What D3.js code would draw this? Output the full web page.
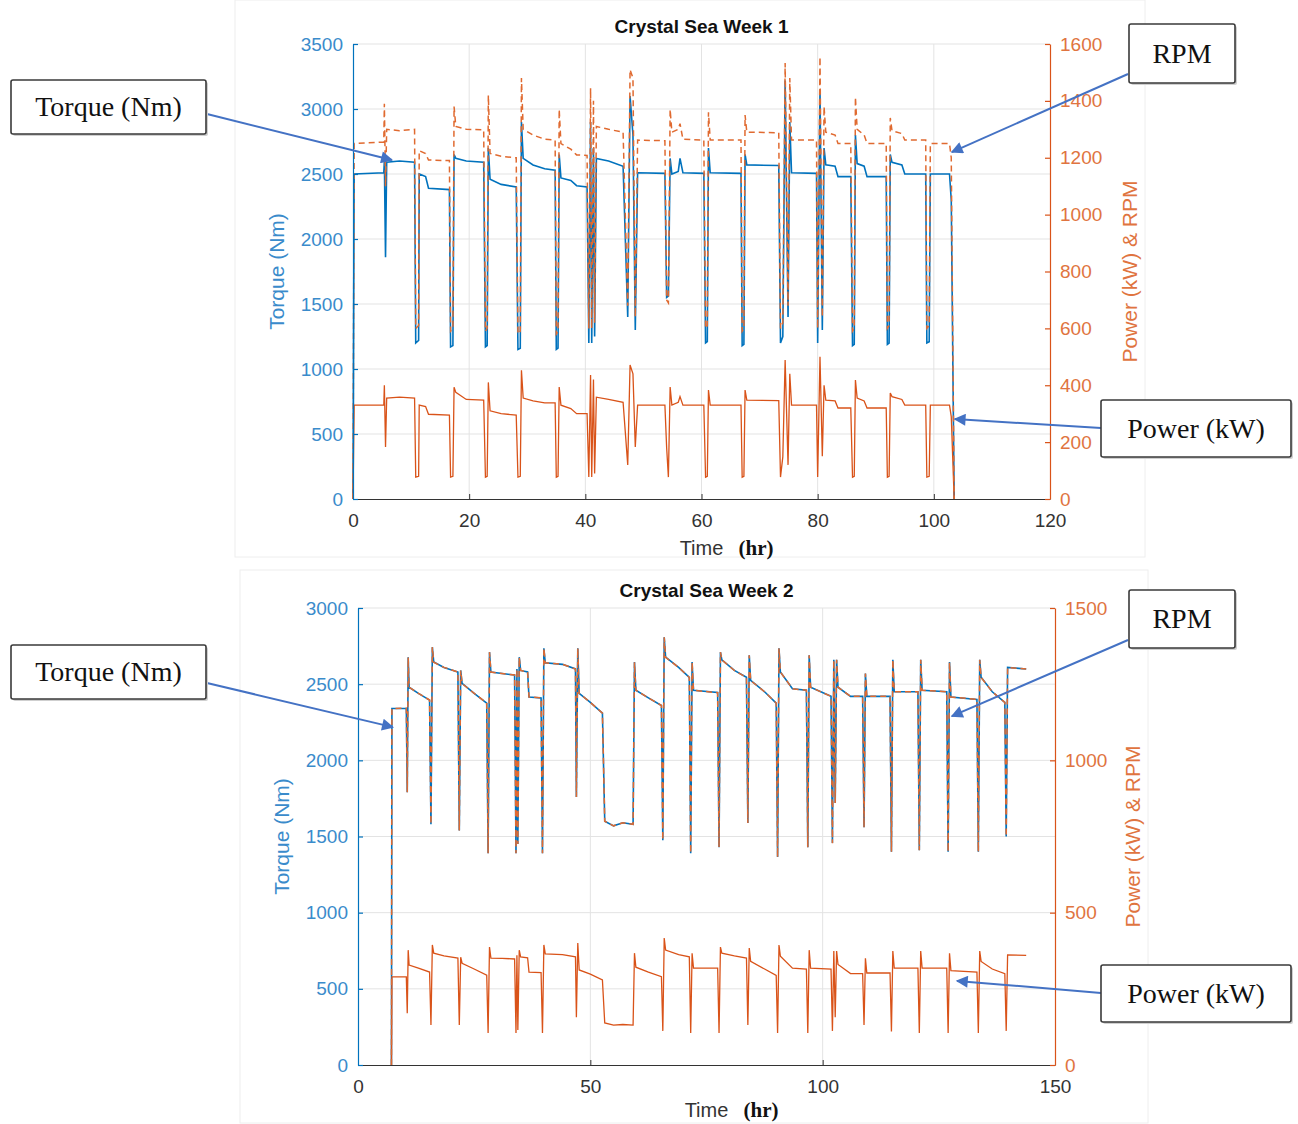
<!DOCTYPE html>
<meta charset="utf-8">
<html>
<head>
  <title>Crystal Sea Week 1 and 2</title>
  <style>
    body { margin: 0; background: #fff; }
    svg { display: block; }
  </style>
  <script src="https://d3js.org/d3.v7.min.js"></script>
</head>
<body>
<svg width="1298" height="1124"></svg>
<script>

  // ---- Week 1: time (hr), torque (Nm), RPM, power (kW) ----
  var w1Time = [
    0, 0.2, 5.3,
    5.4, 5.6, 5.8, 8.0, 10.6,
    10.8, 11.3, 11.4, 12.5, 13.0, 16.6,
    16.8, 17.2, 17.4, 17.7, 19.5, 22.5,
    22.8, 23.1, 23.3, 23.6, 25.5, 28.1,
    28.4, 28.8, 29.0, 29.3, 31.0, 33.0, 34.8,
    35.0, 35.3, 35.5, 35.8, 37.5, 38.5, 40.3,
    40.6, 40.9, 41.1, 41.4, 41.6, 41.9, 44.0, 46.5,
    47.3, 47.7, 48.2, 48.6, 49.0, 53.7,
    54.0, 54.3, 54.6, 54.9, 56.0, 56.3, 56.8, 60.4,
    60.7, 61.0, 61.2, 61.5, 66.8,
    67.0, 67.3, 67.5, 67.8, 73.3,
    73.6, 74.0, 74.4, 74.9, 75.2, 75.5, 79.8,
    80.0, 80.4, 80.8, 81.1, 81.4, 83.0, 83.5, 85.7,
    86.0, 86.3, 86.5, 86.8, 88.0, 88.5, 91.8,
    92.0, 92.3, 92.5, 92.8, 94.5, 95.0, 98.6,
    98.8, 99.2, 99.4, 102.7, 103.0, 103.5
  ];
  var w1Torque = [
    0, 2500, 2510,
    2600, 1860, 2590, 2600, 2590,
    1200, 1220, 2500, 2480, 2390, 2380,
    1170, 1180, 2650, 2620, 2600, 2590,
    1170, 1180, 2700, 2460, 2420, 2400,
    1150, 1160, 2900, 2620, 2570, 2540, 2530,
    1150, 1160, 2650, 2470, 2450, 2410, 2400,
    1200, 2900, 1200, 2700, 1250, 2620, 2600, 2560,
    1400, 3100, 2800, 1300, 2510, 2505,
    1550, 1560, 2620, 2500, 2520, 2620, 2510, 2505,
    1200, 1210, 2700, 2510, 2505,
    1180, 1190, 2650, 2570, 2565,
    1200, 1250, 3220, 1400, 2900, 2510, 2505,
    1200, 3150, 1300, 2700, 2570, 2560, 2480, 2480,
    1180, 1190, 2800, 2580, 2560, 2480, 2480,
    1190, 1200, 2650, 2590, 2570, 2500, 2500,
    1200, 1210, 2500, 2500, 2300, 0
  ];
  var w1Rpm = [
    0, 1250, 1255,
    1390, 1100, 1300, 1295, 1300,
    600, 610, 1225, 1215, 1192, 1190,
    590, 600, 1380, 1310, 1300, 1298,
    590, 600, 1420, 1215, 1205, 1200,
    580, 590, 1480, 1300, 1280, 1265, 1262,
    580, 590, 1370, 1250, 1230, 1210, 1208,
    600, 1445, 600, 1400, 620, 1310, 1300, 1290,
    680, 1510, 1480, 640, 1262, 1260,
    700, 690, 1370, 1290, 1300, 1320, 1265, 1262,
    600, 610, 1360, 1262, 1262,
    590, 600, 1350, 1290, 1288,
    600, 620, 1533, 680, 1480, 1262, 1262,
    600, 1555, 640, 1380, 1290, 1280, 1250, 1250,
    590, 600, 1413, 1300, 1280, 1250, 1250,
    600, 610, 1340, 1295, 1285, 1262, 1262,
    600, 610, 1250, 1250, 1200, 0
  ];
  var w1Power = [
    0, 330, 330,
    400, 183, 355, 358, 355,
    77, 80, 330, 325, 298, 295,
    77, 80, 393, 375, 350, 348,
    77, 80, 410, 310, 300, 295,
    77, 80, 453, 355, 345, 338, 338,
    77, 80, 394, 330, 318, 300, 300,
    77, 436, 77, 420, 90, 358, 350, 340,
    120, 471, 440, 183, 330, 330,
    180, 77, 394, 330, 340, 360, 330, 330,
    77, 80, 383, 330, 330,
    77, 80, 383, 348, 346,
    77, 148, 489, 120, 440, 330, 330,
    77, 500, 150, 400, 348, 345, 320, 320,
    77, 80, 418, 355, 345, 320, 320,
    77, 80, 373, 360, 350, 330, 330,
    77, 80, 330, 330, 290, 0
  ];
  var w1XTicks = [0, 20, 40, 60, 80, 100, 120];
  var w1LeftTicks = [0, 500, 1000, 1500, 2000, 2500, 3000, 3500];
  var w1RightTicks = [0, 200, 400, 600, 800, 1000, 1200, 1400, 1600];

  // ---- Week 2 ----
  var w2Time = [
    7.2, 7.3, 10.4,
    10.6, 10.8, 11.0, 13.0, 15.4,
    15.7, 16.0, 16.3, 18.5, 21.5,
    21.8, 22.1, 22.4, 25.0, 27.7,
    28.0, 28.3, 28.6, 31.0, 33.7,
    34.0, 34.2, 34.4, 34.7, 35.0, 36.5, 36.8, 39.4,
    39.7, 40.0, 40.3, 44.0, 46.8,
    47.0, 47.3, 47.6, 50.0, 52.6,
    53.1, 55.0, 57.0, 59.2,
    59.5, 59.8, 62.5, 65.3,
    65.6, 65.9, 66.2, 69.0, 71.3,
    71.6, 71.9, 72.2, 77.4,
    77.7, 78.0, 78.3, 81.0, 83.6,
    83.9, 84.2, 84.5, 87.5, 90.0,
    90.3, 90.6, 90.9, 93.5, 96.5,
    96.8, 97.1, 97.4, 101.8,
    102.1, 102.4, 102.7, 103.0, 103.3, 106.0, 108.6,
    108.9, 109.2, 109.5, 114.5,
    114.8, 115.1, 115.4, 120.5,
    120.8, 121.1, 121.4, 126.7,
    127.0, 127.3, 127.6, 133.2,
    133.5, 133.8, 134.1, 136.5, 139.2,
    139.5, 139.8, 143.8
  ];
  var w2Torque = [
    0, 2340, 2342,
    1790, 2677, 2480, 2440, 2395,
    1580, 2743, 2645, 2610, 2580,
    1540, 2590, 2505, 2440, 2375,
    1390, 2710, 2580, 2570, 2560,
    1390, 2600, 1450, 2677, 2590, 2580, 2415, 2410,
    1390, 2735, 2640, 2630, 2600,
    1760, 2735, 2440, 2380, 2310,
    1600, 1570, 1590, 1580,
    2645, 2460, 2410, 2360,
    1476, 2808, 2677, 2610, 2545,
    1390, 2645, 2460, 2445,
    1430, 2710, 2660, 2590, 2545,
    1588, 2690, 2525, 2450, 2375,
    1365, 2735, 2580, 2470, 2460,
    1430, 2690, 2480, 2420,
    1457, 2660, 1720, 2660, 2480, 2420, 2420,
    1560, 2570, 2420, 2420,
    1400, 2660, 2450, 2450,
    1410, 2660, 2460, 2450,
    1400, 2645, 2415, 2400,
    1400, 2660, 2545, 2450, 2380,
    1500, 2610, 2600
  ];
  var w2Rpm = [
    0, 1170, 1171,
    895, 1338, 1240, 1220, 1198,
    790, 1372, 1322, 1305, 1290,
    770, 1295, 1252, 1220, 1188,
    695, 1355, 1290, 1285, 1280,
    695, 1300, 725, 1338, 1295, 1290, 1208, 1205,
    695, 1368, 1320, 1315, 1300,
    880, 1368, 1220, 1190, 1155,
    800, 785, 795, 790,
    1322, 1230, 1205, 1180,
    738, 1404, 1338, 1305, 1272,
    695, 1322, 1230, 1222,
    715, 1355, 1330, 1295, 1272,
    794, 1345, 1262, 1225, 1188,
    682, 1368, 1290, 1235, 1230,
    715, 1345, 1240, 1210,
    728, 1330, 860, 1330, 1240, 1210, 1210,
    780, 1285, 1210, 1210,
    700, 1330, 1225, 1225,
    705, 1330, 1230, 1225,
    700, 1322, 1208, 1200,
    700, 1330, 1272, 1225, 1190,
    750, 1305, 1300
  ];
  var w2Power = [
    0, 289, 289,
    170, 377, 328, 318, 305,
    131, 394, 367, 358, 351,
    131, 354, 334, 315, 295,
    105, 387, 351, 350, 348,
    105, 360, 115, 377, 355, 352, 305, 303,
    105, 394, 365, 362, 355,
    157, 400, 312, 298, 279,
    138, 131, 133, 131,
    367, 321, 305, 290,
    112, 417, 377, 362, 355,
    105, 367, 318, 318,
    105, 387, 367, 358, 351,
    131, 384, 340, 315, 294,
    105, 394, 357, 318, 315,
    105, 377, 318, 315,
    112, 374, 157, 374, 330, 300, 300,
    131, 350, 302, 302,
    110, 374, 318, 318,
    105, 374, 318, 318,
    105, 367, 310, 305,
    105, 374, 340, 315, 300,
    112, 361, 360
  ];
  var w2XTicks = [0, 50, 100, 150];
  var w2LeftTicks = [0, 500, 1000, 1500, 2000, 2500, 3000];
  var w2RightTicks = [0, 500, 1000, 1500];

  // callout boxes: box in page pixels, arrow tip in data units
  var w1Notes = [
    {label: "Torque (Nm)", box: [11, 80, 195, 54], from: [207, 114], tip: [6.7, 2608], axis: "left"},
    {label: "RPM", box: [1129, 24, 106, 59], from: [1128, 74], tip: [103.1, 1220], axis: "right"},
    {label: "Power (kW)", box: [1101, 400, 190, 57], from: [1101, 428], tip: [103.6, 281], axis: "right"}
  ];
  var w2Notes = [
    {label: "Torque (Nm)", box: [11, 645, 195, 54], from: [207, 683], tip: [7.5, 2218], axis: "left"},
    {label: "RPM", box: [1129, 590, 106, 58], from: [1128, 640], tip: [127.8, 1145], axis: "right"},
    {label: "Power (kW)", box: [1101, 965, 190, 57], from: [1101, 993], tip: [128.9, 276], axis: "right"}
  ];

  var blue = "#0072BD", orange = "#D95319";
  var blueText = "#3a8bcb", orangeText = "#e07440";
  var sans = "'Liberation Sans', Arial, Helvetica, sans-serif";
  var serif = "'Liberation Serif', 'Times New Roman', serif";

  var svg = d3.select("svg");
  svg.append("rect").attr("width", 1298).attr("height", 1124).attr("fill", "#fff");

  svg.append("defs").append("marker")
    .attr("id", "arrow")
    .attr("viewBox", "0 0 10 10")
    .attr("refX", 9).attr("refY", 5)
    .attr("markerWidth", 17).attr("markerHeight", 12)
    .attr("markerUnits", "userSpaceOnUse")
    .attr("orient", "auto")
    .append("path").attr("d", "M0,0L10,5L0,10z").attr("fill", "#4472C4");

  function drawChart(c) {
    var x = d3.scaleLinear().domain([c.xTicks[0], c.xTicks[c.xTicks.length - 1]]).range([c.left, c.right]);
    var yL = d3.scaleLinear().domain([0, c.leftTicks[c.leftTicks.length - 1]]).range([c.bottom, c.top]);
    var yR = d3.scaleLinear().domain([0, c.rightTicks[c.rightTicks.length - 1]]).range([c.bottom, c.top]);
    var fmt = d3.format("d");
    var g = svg.append("g");

    // faint frame of the pasted figure
    g.append("rect")
      .attr("x", c.panel[0]).attr("y", c.panel[1])
      .attr("width", c.panel[2]).attr("height", c.panel[3])
      .attr("fill", "none").attr("stroke", "#eeeeee");

    // grid
    g.append("g").selectAll("line").data(c.xTicks.slice(1, -1)).enter().append("line")
      .attr("x1", function(d) { return x(d); }).attr("x2", function(d) { return x(d); })
      .attr("y1", c.top).attr("y2", c.bottom)
      .attr("stroke", "#e3e3e3");
    g.append("g").selectAll("line").data(c.leftTicks.slice(1)).enter().append("line")
      .attr("x1", c.left).attr("x2", c.right)
      .attr("y1", function(d) { return yL(d); }).attr("y2", function(d) { return yL(d); })
      .attr("stroke", "#e3e3e3");

    // data
    var idx = d3.range(c.time.length);
    function path(vals, y) {
      return d3.line().x(function(i) { return x(c.time[i]); }).y(function(i) { return y(vals[i]); })(idx);
    }
    g.append("path").attr("d", path(c.torque, yL))
      .attr("fill", "none").attr("stroke", blue).attr("stroke-width", 1.6);
    g.append("path").attr("d", path(c.power, yR))
      .attr("fill", "none").attr("stroke", orange).attr("stroke-width", 1.3);
    g.append("path").attr("d", path(c.rpm, yR))
      .attr("fill", "none").attr("stroke", "#e06a30").attr("stroke-width", 1.5)
      .attr("stroke-dasharray", "6,4");

    // axes
    var ax = g.append("g").attr("transform", "translate(0," + c.bottom + ")")
      .call(d3.axisBottom(x).tickValues(c.xTicks).tickFormat(fmt)
        .tickSizeInner(-5).tickSizeOuter(0).tickPadding(15));
    ax.selectAll("path, line").attr("stroke", "#333");
    ax.selectAll("text").attr("fill", "#333");

    var al = g.append("g").attr("transform", "translate(" + c.left + ",0)")
      .call(d3.axisLeft(yL).tickValues(c.leftTicks).tickFormat(fmt)
        .tickSizeInner(-5).tickSizeOuter(0).tickPadding(10));
    al.selectAll("path, line").attr("stroke", blue).attr("stroke-width", 1.2);
    al.selectAll("text").attr("fill", blueText);

    var ar = g.append("g").attr("transform", "translate(" + c.right + ",0)")
      .call(d3.axisRight(yR).tickValues(c.rightTicks).tickFormat(fmt)
        .tickSizeInner(-5).tickSizeOuter(0).tickPadding(10));
    ar.selectAll("path, line").attr("stroke", orange).attr("stroke-width", 1.2);
    ar.selectAll("text").attr("fill", orangeText);

    [ax, al, ar].forEach(function(a) {
      a.attr("font-family", sans).attr("font-size", 19);
    });

    // titles and labels
    var mid = (c.left + c.right) / 2;
    g.append("text").attr("x", mid).attr("y", c.top - 11)
      .attr("text-anchor", "middle").attr("font-family", sans)
      .attr("font-weight", "bold").attr("font-size", 19).attr("fill", "#111")
      .text(c.title);

    g.append("text").attr("x", mid).attr("y", c.timeY)
      .attr("text-anchor", "middle").attr("font-family", sans)
      .attr("font-size", 20).attr("fill", "#333").text("Time");
    g.append("text").attr("x", mid + 37).attr("y", c.timeY)
      .attr("font-family", serif).attr("font-weight", "bold")
      .attr("font-size", 21).attr("fill", "#111").text("(hr)");

    var cy = (c.top + c.bottom) / 2;
    g.append("text")
      .attr("transform", "translate(" + c.leftLabelX + "," + cy + ") rotate(-90)")
      .attr("text-anchor", "middle").attr("font-family", sans)
      .attr("font-size", 21).attr("fill", blueText).text("Torque (Nm)");
    g.append("text")
      .attr("transform", "translate(" + c.rightLabelX + "," + cy + ") rotate(-90)")
      .attr("text-anchor", "middle").attr("font-family", sans)
      .attr("font-size", 21).attr("fill", orangeText).text("Power (kW) & RPM");

    // callouts
    c.notes.forEach(function(n) {
      var y = n.axis === "left" ? yL : yR;
      g.append("line")
        .attr("x1", n.from[0]).attr("y1", n.from[1])
        .attr("x2", x(n.tip[0])).attr("y2", y(n.tip[1]))
        .attr("stroke", "#4472C4").attr("stroke-width", 2)
        .attr("marker-end", "url(#arrow)");
      g.append("rect")
        .attr("x", n.box[0] + 2).attr("y", n.box[1] + 2)
        .attr("width", n.box[2]).attr("height", n.box[3])
        .attr("fill", "#cfcfcf").attr("rx", 2);
      g.append("rect")
        .attr("x", n.box[0]).attr("y", n.box[1])
        .attr("width", n.box[2]).attr("height", n.box[3])
        .attr("fill", "#fff").attr("stroke", "#3a3a3a").attr("stroke-width", 1.6).attr("rx", 2);
      g.append("text")
        .attr("x", n.box[0] + n.box[2] / 2).attr("y", n.box[1] + n.box[3] / 2 + 9)
        .attr("text-anchor", "middle").attr("font-family", serif)
        .attr("font-size", 28).attr("fill", "#111").text(n.label);
    });
  }

  drawChart({
    title: "Crystal Sea Week 1",
    time: w1Time, torque: w1Torque, rpm: w1Rpm, power: w1Power,
    xTicks: w1XTicks, leftTicks: w1LeftTicks, rightTicks: w1RightTicks,
    left: 353, right: 1050, top: 44, bottom: 499,
    leftLabelX: 284, rightLabelX: 1137, timeY: 555,
    panel: [235, 0, 910, 557],
    notes: w1Notes
  });

  drawChart({
    title: "Crystal Sea Week 2",
    time: w2Time, torque: w2Torque, rpm: w2Rpm, power: w2Power,
    xTicks: w2XTicks, leftTicks: w2LeftTicks, rightTicks: w2RightTicks,
    left: 358, right: 1055, top: 608, bottom: 1065,
    leftLabelX: 289, rightLabelX: 1140, timeY: 1117,
    panel: [240, 570, 908, 553],
    notes: w2Notes
  });

</script>
</body>
</html>
